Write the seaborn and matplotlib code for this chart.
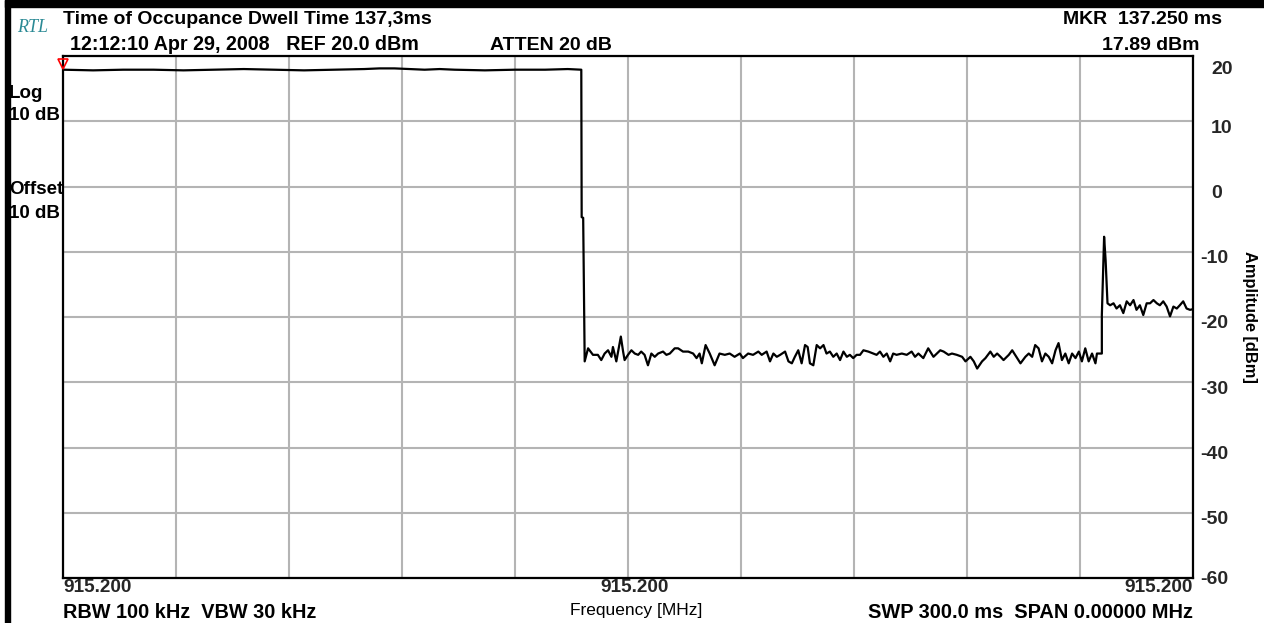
import matplotlib
matplotlib.use("Agg")
import matplotlib.pyplot as plt
import matplotlib.transforms as mtransforms
from matplotlib.patches import Rectangle
import numpy as np
import pandas as pd
import seaborn as sns

# Zero-span sweep trace: time in ms, level in dBm
on_ms = [0, 8, 16, 24, 32, 40, 48, 56, 64, 72, 80, 84, 88, 96, 100, 104, 112, 120, 128, 134, 137.6]
on_dbm = [17.9, 17.8, 17.9, 17.9, 17.8, 17.9, 18.0, 17.9, 17.8, 17.9, 18.0, 18.1, 18.1, 17.9, 18.0,
          17.9, 17.8, 17.9, 17.9, 18.0, 17.9]

fall_ms = [137.7, 138.1]
fall_dbm = [-4.7, -4.8]

off_ms = [138.5, 139.4, 140.7, 142.0, 142.9, 143.8, 144.7, 145.6, 146.0, 146.9, 148.1, 148.7, 149.1,
          150.0, 150.9, 151.8, 152.7, 153.5, 154.4, 155.3, 156.2, 157.1, 158.0, 159.3, 160.2, 161.1,
          162.4, 163.3, 164.6, 166.0, 167.3, 168.2, 169.0, 169.6, 170.6, 171.7, 173.0, 174.3, 175.7,
          177.0, 178.3, 179.7, 180.5, 181.9, 183.2, 184.6, 185.5, 186.8, 187.7, 188.6, 189.5, 190.4,
          191.7, 192.6, 193.5, 194.3, 195.2, 196.1, 197.0, 197.7, 198.3, 199.2, 200.1, 201.0, 201.9,
          202.7, 203.6, 204.5, 205.4, 206.3, 207.2, 208.1, 208.9, 209.8, 210.7, 211.6, 212.5, 213.8,
          215.1, 216.0, 216.9, 217.8, 218.7, 219.6, 220.4, 221.3, 222.7, 224.0, 225.3, 226.2, 227.1,
          228.4, 229.7, 231.1, 232.0, 232.9, 233.8, 235.1, 236.0, 237.3, 238.7, 239.6, 240.9, 241.8,
          242.7, 244.0, 244.9, 246.2, 247.1, 248.0, 248.9, 249.7, 251.1, 252.0, 253.3, 254.2, 255.5,
          256.4, 257.3, 258.1, 259.0, 259.9, 260.8, 261.7, 262.6, 263.5, 264.3, 265.2, 266.1, 267.0,
          267.9, 268.8, 269.7, 270.5, 271.4, 272.3, 273.2, 274.1, 274.5, 275.8]
off_dbm = [-26.8, -24.8, -25.8, -25.8, -26.6, -25.6, -25.1, -26.1, -24.6, -26.8, -23.0, -25.3, -26.6,
           -25.8, -25.1, -25.6, -25.8, -25.3, -25.8, -27.4, -25.6, -26.1, -25.6, -25.3, -25.8, -25.6,
           -24.8, -24.8, -25.3, -25.3, -25.6, -26.3, -25.6, -27.1, -24.3, -25.6, -27.4, -25.6, -25.8,
           -25.6, -26.1, -25.6, -26.3, -25.6, -25.8, -25.3, -25.8, -25.3, -26.8, -25.6, -26.1, -25.8,
           -25.3, -26.8, -27.1, -26.1, -25.1, -27.1, -24.3, -24.6, -27.1, -27.4, -24.3, -24.8, -24.3,
           -25.6, -25.3, -26.1, -25.6, -26.6, -25.3, -26.1, -25.8, -26.3, -25.8, -25.8, -25.1, -25.3,
           -25.6, -25.8, -25.3, -26.1, -25.6, -26.8, -25.6, -25.8, -25.6, -25.8, -25.3, -26.1, -25.6,
           -26.3, -24.8, -26.1, -25.6, -25.1, -25.3, -25.8, -25.6, -25.8, -26.1, -26.8, -26.1, -26.8,
           -27.9, -26.8, -26.3, -25.3, -26.1, -25.6, -26.1, -26.6, -25.8, -25.1, -26.3, -27.1, -26.1,
           -25.6, -26.1, -24.3, -24.8, -26.8, -25.6, -26.1, -27.1, -25.1, -24.0, -26.6, -25.6, -27.1,
           -25.6, -26.3, -25.3, -26.8, -24.8, -26.8, -25.6, -27.1, -25.6, -25.6]

tail_ms = [275.8, 276.4, 276.8, 277.3, 278.0, 278.9, 279.7, 280.6, 281.5, 282.4, 283.3, 284.2, 285.0,
           285.9, 286.8, 287.7, 288.6, 289.5, 290.4, 291.2, 292.1, 293.0, 293.9, 294.8, 295.7, 296.5,
           297.4, 298.3, 299.2, 300.0]
tail_dbm = [-19.7, -7.7, -11.3, -17.9, -18.2, -17.9, -18.7, -18.2, -19.4, -17.6, -18.2, -17.4, -18.9,
            -18.2, -19.7, -17.9, -17.9, -17.4, -17.9, -18.2, -17.6, -18.4, -19.9, -18.4, -18.7, -18.2,
            -17.6, -18.7, -18.9, -18.8]

marker_ms = [0.0]
marker_dbm = [18.8]

amp_ticks = [20, 10, 0, -10, -20, -30, -40, -50, -60]
freq_label = "915.200"

trace = pd.DataFrame({
    "time": on_ms + fall_ms + off_ms + tail_ms,
    "level": on_dbm + fall_dbm + off_dbm + tail_dbm,
})

W, H = 1264, 623

sns.set_theme(style="white")
plt.rcParams["font.family"] = ["Liberation Sans", "DejaVu Sans"]

fig = plt.figure(figsize=(W / 100, H / 100), dpi=100)
fig.patch.set_facecolor("white")


def fx(x):
    return x / W


def fy(y):
    return 1 - y / H


ax = fig.add_axes([fx(63), fy(578), fx(1193) - fx(63), fy(56) - fy(578)])
ax.set_facecolor("white")

sns.lineplot(data=trace, x="time", y="level", estimator=None, sort=False,
             color="black", linewidth=1.6, ax=ax)

ax.set_xlim(0, 300)
ax.set_ylim(-60, 20)

# grid: 10 time divisions, 10 dB per division
ax.set_xticks(np.arange(0, 301, 30))
xt_labels = [""] * 11
xt_labels[0] = xt_labels[5] = xt_labels[10] = freq_label
ax.set_xticklabels(xt_labels, fontsize=13.7, fontweight="bold")
ax.set_yticks(amp_ticks)
ax.set_yticklabels([str(v) for v in amp_ticks], fontsize=14, fontweight="bold")
ax.yaxis.tick_right()
ax.tick_params(axis="both", length=0)
ax.tick_params(axis="x", pad=1)
ax.tick_params(axis="y", pad=5)

xl = ax.get_xticklabels()
xl[0].set_horizontalalignment("left")
xl[10].set_horizontalalignment("right")
xl[5].set_transform(xl[5].get_transform() + mtransforms.ScaledTranslation(7 / 100, 0, fig.dpi_scale_trans))

for lab, v in zip(ax.get_yticklabels(), amp_ticks):
    lab.set_horizontalalignment("left")
    dx = 11 if v >= 0 else 0
    dy = -12 if v == 20 else (0 if v == -60 else -5)
    lab.set_transform(lab.get_transform() + mtransforms.ScaledTranslation(dx / 100, dy / 100, fig.dpi_scale_trans))

ax.grid(True, color="#b4b4b4", linewidth=1.5)
for s in ax.spines.values():
    s.set_color("black")
    s.set_linewidth(1.6)
ax.set_xlabel("")
ax.set_ylabel("")

# marker symbol at the start of the trace
ax.plot(marker_ms, marker_dbm, marker="v", markersize=7, markerfacecolor="none",
        markeredgecolor="red", markeredgewidth=1.2, linestyle="none", clip_on=False, zorder=5)

# instrument frame bars
fig.patches.append(Rectangle((fx(5), 0), fx(10) - fx(5), 1, transform=fig.transFigure,
                             color="black", zorder=0))
fig.patches.append(Rectangle((fx(5), fy(7)), 1, fy(0) - fy(7), transform=fig.transFigure,
                             color="black", zorder=0))

bold = dict(fontweight="bold", color="black")
fig.text(fx(17), fy(28), "RTL", fontsize=13, fontstyle="italic", color="#2b8a95",
         family=["Liberation Serif", "DejaVu Serif"], va="center", ha="left")
fig.text(fx(63), fy(20), "Time of Occupance Dwell Time 137,3ms", fontsize=14, va="center", ha="left", **bold)
fig.text(fx(70), fy(45), "12:12:10 Apr 29, 2008   REF 20.0 dBm", fontsize=14.2, va="center", ha="left", **bold)
fig.text(fx(490), fy(45), "ATTEN 20 dB", fontsize=14, va="center", ha="left", **bold)
fig.text(fx(1222), fy(20), "MKR  137.250 ms", fontsize=14, va="center", ha="right", **bold)
fig.text(fx(1200), fy(45), "17.89 dBm", fontsize=14, va="center", ha="right", **bold)

fig.text(fx(9), fy(93), "Log", fontsize=13.5, va="center", ha="left", **bold)
fig.text(fx(9), fy(116), "10 dB", fontsize=13.5, va="center", ha="left", **bold)
fig.text(fx(9), fy(189), "Offset", fontsize=13.5, va="center", ha="left", **bold)
fig.text(fx(9), fy(213), "10 dB", fontsize=13.5, va="center", ha="left", **bold)

fig.text(fx(1249), fy(317), "Amplitude [dBm]", fontsize=11.8, rotation=-90, va="center", ha="center", **bold)

fig.text(fx(63), fy(612), "RBW 100 kHz  VBW 30 kHz", fontsize=14.3, va="center", ha="left", **bold)
fig.text(fx(636), fy(611), "Frequency [MHz]", fontsize=12.5, va="center", ha="center", color="black")
fig.text(fx(1193), fy(612), "SWP 300.0 ms  SPAN 0.00000 MHz", fontsize=14.4, va="center", ha="right", **bold)

fig.savefig("out.png", dpi=100, facecolor="white")
